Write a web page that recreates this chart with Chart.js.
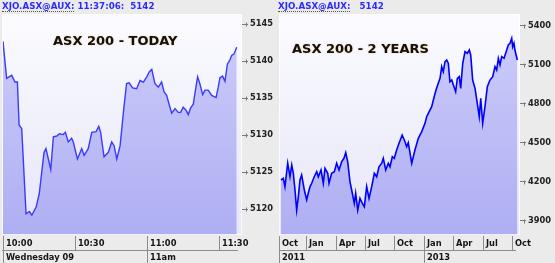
<!DOCTYPE html>
<html>
<head>
<meta charset="utf-8">
<script src="https://cdn.jsdelivr.net/npm/chart.js@4/dist/chart.umd.min.js"></script>
<style>
  html, body { margin: 0; padding: 0; background: #ebebeb; }
  #wrap { position: relative; width: 555px; height: 263px; overflow: hidden; background: #ebebeb; }
  canvas { position: absolute; left: 0; top: 0; }
  .hdr { position: absolute; top: 0px; font: bold 8.7px "DejaVu Sans", sans-serif; color: #2b2bff; white-space: pre; line-height: 12px; }
  .hdr span.u { border-bottom: 1px dotted #555; }
</style>
</head>
<body>
<div id="wrap">
  <canvas id="cToday" width="555" height="263"></canvas>
  <canvas id="cYears" width="555" height="263"></canvas>
  <div class="hdr" style="left:2px;"><span class="u">XJO.ASX@AUX:</span> 11:37:06:  5142</div>
  <div class="hdr" style="left:278px;"><span class="u">XJO.ASX@AUX:</span>   5142</div>
</div>
<script>
// ---------- TODAY (minutes after 10:00) ----------
const todayMinutes = [0,1.5,3.6,5,6,6.7,7.8,9.6,11,12,13.8,15.1,17.1,17.9,19.9,21,22.4,23.5,25.1,26,27.2,28.6,29.3,31,32.8,33.8,35.5,37,38.8,39.9,40.7,42.1,43.9,45.3,46.3,47.4,48.8,50.4,51.5,52.6,54,55.7,57.1,58.5,59.9,61,62,63.3,64.7,66.1,67.1,68.2,69.3,70.3,71.7,73,74,75.1,76.3,77.2,78.2,79.3,80.1,81.1,82.1,83.2,84.2,85.5,87,88.8,89.7,90.4,91.5,92.5,93.5,94.6,95.3,96.3,97.4];
const todayValues = [5142.7,5137.7,5138.1,5137.2,5137.2,5131.4,5130.9,5119.4,5119.7,5119.2,5120.3,5122.1,5127.7,5128.2,5125.4,5129.8,5129.9,5130.2,5130.1,5130.4,5129.1,5129.6,5129.1,5126.8,5128.2,5127.3,5128.2,5130.4,5130.5,5131.2,5130.4,5127.1,5127.7,5129.1,5128.6,5126.8,5128.6,5133.8,5137.0,5137.1,5136.4,5136.3,5137.4,5137.2,5137.9,5138.6,5138.9,5137.0,5136.5,5137.2,5135.9,5135.4,5134.1,5133.0,5133.6,5133.1,5133.1,5133.8,5133.4,5132.8,5133.7,5134.2,5135.9,5137.9,5136.9,5135.5,5136.1,5136.1,5135.4,5135.1,5136.5,5137.8,5138.0,5137.3,5139.6,5140.2,5140.8,5141.0,5141.9];
const todayYTicks = [5120,5125,5130,5135,5140,5145];
const todayGrid = [30,60,90];
const todayTickMinutes = [0,30,60,90];
const todayTickLabels = ["10:00","10:30","11:00","11:30"];
const todayDayMinutes = [0,60];
const todayDayLabels = ["Wednesday 09","11am"];

// ---------- 2 YEARS (months after 1 Oct 2011) ----------
const yearsMonths = [0.46,0.69,0.86,1.14,1.37,1.55,1.71,1.88,2.05,2.22,2.39,2.56,2.83,3.07,3.23,3.41,3.58,3.84,4.09,4.25,4.53,4.76,4.93,5.21,5.34,5.61,5.88,6.12,6.36,6.63,6.86,7.04,7.24,7.47,7.71,7.91,8.05,8.26,8.49,8.73,8.93,9.17,9.41,9.68,9.95,10.19,10.42,10.70,10.86,11.11,11.37,11.54,11.78,11.98,12.22,12.46,12.78,13.07,13.24,13.40,13.75,14.08,14.42,14.77,15.10,15.27,15.44,15.78,15.95,16.22,16.45,16.63,16.80,16.96,17.14,17.31,17.47,17.64,17.82,18.05,18.22,18.39,18.59,18.73,18.94,19.17,19.40,19.61,19.75,19.95,20.19,20.42,20.62,20.77,20.97,21.20,21.44,21.71,21.99,22.22,22.39,22.56,22.73,22.90,23.14,23.41,23.57,23.75,23.92,24.02,24.15,24.25,24.49];
const yearsValues = [4213,4226,4162,4342,4238,4328,4265,4136,3982,4085,4213,4252,4136,4060,4111,4162,4188,4238,4277,4238,4290,4188,4303,4265,4188,4265,4277,4342,4290,4354,4380,4423,4354,4200,4111,4034,4111,3982,4072,4034,4008,4162,4072,4162,4265,4238,4315,4342,4380,4290,4342,4315,4392,4380,4444,4495,4559,4508,4469,4500,4342,4444,4534,4585,4649,4700,4726,4777,4828,4905,4957,4995,5085,5046,5123,5136,5111,4969,4982,4931,4892,4995,5008,4918,5111,5200,5188,5213,5175,4982,4918,4803,4700,4842,4649,4777,4931,4982,5008,5085,5059,5149,5098,5162,5149,5213,5252,5265,5303,5238,5265,5213,5136];
const yearsYTicks = [3900,4200,4500,4800,5100,5400];
const yearsGrid = [9,18];
const yearsTickMonths = [0,3,6,9,12,15,18,21,24];
const yearsTickLabels = ["Oct","Jan","Apr","Jul","Oct","Jan","Apr","Jul","Oct"];
const yearsYearMonths = [0,15];
const yearsYearLabels = ["2011","2013"];

const AXIS_FONT = 'bold 8.3px "DejaVu Sans", sans-serif';

const decorPlugin = {
  id: 'decor',
  beforeDatasetsDraw(chart) {
    const {ctx, chartArea: a} = chart;
    ctx.save();
    const g = ctx.createLinearGradient(0, a.top, 0, a.bottom);
    g.addColorStop(0, '#fbfbff');
    g.addColorStop(1, '#e6e6f8');
    ctx.fillStyle = g;
    ctx.fillRect(a.left, a.top, a.right - a.left, a.bottom - a.top);
    ctx.restore();
  },
  afterDatasetsDraw(chart) {
    const o = chart.options.plugins.decor;
    const {ctx, chartArea: a} = chart;
    ctx.save();
    ctx.strokeStyle = 'rgba(255,255,255,0.8)';
    ctx.lineWidth = 1;
    ctx.strokeRect(a.left + 0.5, a.top + 0.5, a.right - a.left - 1, a.bottom - a.top - 1);
    // title
    ctx.font = 'bold 13px "DejaVu Sans", sans-serif';
    ctx.textBaseline = 'middle';
    ctx.textAlign = 'left';
    ctx.shadowColor = 'rgba(240,150,30,0.6)';
    ctx.shadowBlur = 1.5;
    ctx.fillStyle = '#111';
    ctx.fillText(o.title, o.titleX, o.titleY);
    ctx.restore();
  },
  afterDraw(chart) {
    const o = chart.options.plugins.decor;
    const {ctx, chartArea: a} = chart;
    const xs = chart.scales.x, ys = chart.scales.y;
    ctx.save();
    // small crosses on y ticks
    ctx.strokeStyle = '#7a7a7a';
    ctx.lineWidth = 1;
    ys.ticks.forEach(t => {
      const py = Math.round(ys.getPixelForValue(t.value)) + 0.5;
      ctx.beginPath();
      ctx.moveTo(a.right + 4.5, py - 2); ctx.lineTo(a.right + 4.5, py + 2);
      ctx.stroke();
    });
    // bottom two-row axis
    const y0 = a.bottom + 1, y1 = a.bottom + 15, y2 = 263;
    const rEnd = a.right - 4;
    ctx.strokeStyle = '#8c8c8c';
    ctx.beginPath();
    ctx.moveTo(a.left, y1 + 0.5); ctx.lineTo(rEnd, y1 + 0.5);
    ctx.stroke();
    ctx.fillStyle = '#151515';
    ctx.font = AXIS_FONT;
    ctx.textBaseline = 'middle';
    ctx.textAlign = 'left';
    const row = (vals, labels, top, bot) => {
      vals.forEach((v, i) => {
        const px = Math.max(a.left, Math.round(xs.getPixelForValue(v)));
        ctx.beginPath();
        ctx.moveTo(px + 0.5, top); ctx.lineTo(px + 0.5, bot);
        ctx.stroke();
        ctx.fillText(labels[i], px + 3, (top + bot) / 2 + 0.5);
      });
    };
    row(o.r1v, o.r1l, y0, y1);
    row(o.r2v, o.r2l, y1 + 1, y2);
    ctx.restore();
  }
};

function fillGrad(ctx, chart) {
  const a = chart.chartArea;
  if (!a) return 'rgba(180,180,245,0.8)';
  const g = ctx.createLinearGradient(0, a.top, 0, a.bottom);
  g.addColorStop(0, 'rgba(198,198,250,0.85)');
  g.addColorStop(1, 'rgba(168,168,243,0.9)');
  return g;
}

function makeChart(id, cfg) {
  return new Chart(document.getElementById(id), {
    type: 'line',
    data: {
      datasets: [{
        data: cfg.xs.map((x, i) => ({x: x, y: cfg.ys[i]})),
        borderColor: cfg.lineColor,
        borderWidth: cfg.lineWidth,
        pointRadius: 0,
        tension: 0,
        fill: 'start',
        backgroundColor: c => fillGrad(c.chart.ctx, c.chart)
      }]
    },
    options: {
      responsive: false,
      animation: false,
      devicePixelRatio: 1,
      layout: { padding: cfg.padding },
      plugins: {
        legend: { display: false },
        tooltip: { enabled: false },
        decor: cfg.decor
      },
      scales: {
        x: {
          type: 'linear',
          min: cfg.xMin, max: cfg.xMax,
          position: 'bottom',
          z: 1,
          afterBuildTicks: s => { s.ticks = cfg.grid.map(v => ({value: v})); },
          afterFit: s => { s.height = 0; },
          ticks: { display: false },
          border: { display: false },
          grid: { color: 'rgba(120,120,150,0.45)', lineWidth: 1, drawTicks: false }
        },
        y: {
          type: 'linear',
          position: 'right',
          min: cfg.yMin, max: cfg.yMax,
          afterBuildTicks: s => { s.ticks = cfg.yTicks.map(v => ({value: v})); },
          afterFit: s => { s.width = cfg.yWidth; },
          border: { display: false },
          grid: { drawOnChartArea: false, drawTicks: true, tickLength: 6, color: '#7a7a7a' },
          ticks: {
            padding: 2,
            color: '#222',
            font: { family: '"DejaVu Sans", sans-serif', size: 8.3, weight: 'bold' },
            callback: v => String(v)
          }
        }
      }
    },
    plugins: [decorPlugin]
  });
}

makeChart('cToday', {
  xs: todayMinutes, ys: todayValues,
  lineColor: '#3a3aff', lineWidth: 1.4,
  padding: { left: 2, top: 14, right: 273, bottom: 28 },
  xMin: -0.42, xMax: 99.6,
  yMin: 5116.53, yMax: 5146.39,
  yTicks: todayYTicks, yWidth: 40,
  grid: todayGrid,
  decor: {
    title: 'ASX 200 - TODAY', titleX: 53, titleY: 42,
    r1v: todayTickMinutes, r1l: todayTickLabels,
    r2v: todayDayMinutes, r2l: todayDayLabels
  }
});

makeChart('cYears', {
  xs: yearsMonths, ys: yearsValues,
  lineColor: '#0000ff', lineWidth: 1.6,
  padding: { left: 279, top: 14, right: 0, bottom: 28 },
  xMin: 0.254, xMax: 24.763,
  yMin: 3790, yMax: 5490,
  yTicks: yearsYTicks, yWidth: 35,
  grid: yearsGrid,
  decor: {
    title: 'ASX 200 - 2 YEARS', titleX: 292, titleY: 50,
    r1v: yearsTickMonths, r1l: yearsTickLabels,
    r2v: yearsYearMonths, r2l: yearsYearLabels
  }
});
</script>
</body>
</html>
